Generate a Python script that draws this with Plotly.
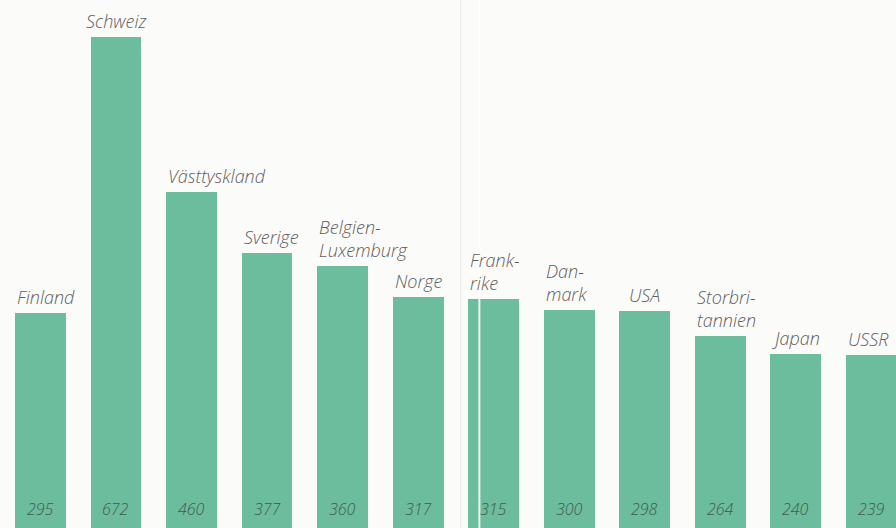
import plotly.graph_objects as go

# Countries and values as printed under each bar
COUNTRIES = ["Finland", "Schweiz", "Västtyskland", "Sverige", "Belgien-<br>Luxemburg",
             "Norge", "Frank-<br>rike", "Dan-<br>mark", "USA", "Storbri-<br>tannien",
             "Japan", "USSR"]
VALUES = [295, 672, 460, 377, 360, 317, 315, 300, 298, 264, 240, 239]

BAR_COLOR = "#6cbd9e"
TEXT_COLOR = "#5e5e5e"
VALUE_COLOR = "#45584f"
BG = "#fbfbf9"
BAR_WIDTH = 0.675
FONT = "Open Sans"

# labels that sit centred over their bar instead of flush left
CENTERED = {"Schweiz", "USA"}

positions = list(range(len(COUNTRIES)))

fig = go.Figure()
fig.add_trace(go.Bar(
    x=positions,
    y=VALUES,
    width=BAR_WIDTH,
    marker=dict(color=BAR_COLOR, line=dict(width=0)),
    hoverinfo="skip",
))

annotations = []
for pos, name, val in zip(positions, COUNTRIES, VALUES):
    centered = name in CENTERED
    # country name above the bar
    annotations.append(dict(
        x=pos if centered else pos - BAR_WIDTH / 2,
        y=val,
        xref="x", yref="y",
        text=name,
        showarrow=False,
        xanchor="center" if centered else "left",
        yanchor="bottom",
        align="left",
        yshift=2,
        font=dict(family=FONT, size=18, color=TEXT_COLOR, style="italic", weight=300),
    ))
    # value near the foot of the bar
    annotations.append(dict(
        x=pos,
        y=0,
        xref="x", yref="paper",
        text=str(val),
        showarrow=False,
        xanchor="center",
        yanchor="middle",
        yshift=19,
        font=dict(family=FONT, size=16, color=VALUE_COLOR, style="italic", weight=300),
    ))

fig.update_layout(
    width=896,
    height=528,
    margin=dict(l=0, r=0, t=0, b=0),
    paper_bgcolor=BG,
    plot_bgcolor=BG,
    showlegend=False,
    bargap=0,
    xaxis=dict(range=[-0.536, 11.33], visible=False, fixedrange=True),
    yaxis=dict(range=[2.7, 722], visible=False, fixedrange=True),
    annotations=annotations,
    shapes=[
        # faint page gutter of the scanned original
        dict(type="line", xref="paper", yref="paper", x0=0.514, x1=0.514, y0=0, y1=1,
             line=dict(color="rgba(0,0,0,0.07)", width=1), layer="below"),
        # light fold line crossing the Frankrike bar
        dict(type="line", xref="paper", yref="paper", x0=0.535, x1=0.535, y0=0, y1=1,
             line=dict(color="rgba(255,255,255,0.9)", width=2), layer="above"),
    ],
)

fig.write_html("out.html", config={"displayModeBar": False},
               post_script="document.body.style.margin='0';")
